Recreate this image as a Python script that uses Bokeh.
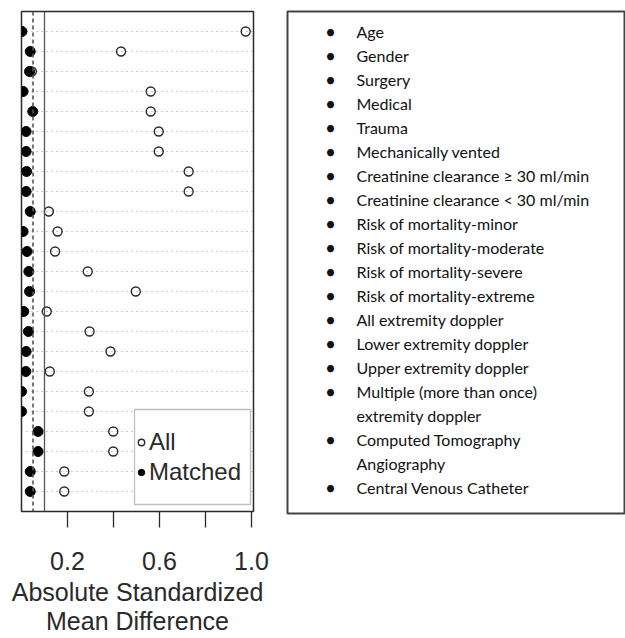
from bokeh.plotting import figure
from bokeh.models import (Range1d, FixedTicker, Span, Legend, LegendItem,
                          BoxAnnotation, PrintfTickFormatter)
from bokeh.layouts import row
from bokeh.embed import file_html
from bokeh.resources import INLINE
from bokeh.core.properties import value

# ---- data (top row first) ----
all_smd = [0.975, 0.433, 0.045, 0.562, 0.562, 0.597, 0.597, 0.727, 0.727,
           0.119, 0.157, 0.146, 0.288, 0.497, 0.110, 0.296, 0.387, 0.123,
           0.293, 0.293, 0.399, 0.399, 0.186, 0.186]
matched_smd = [0.002, 0.038, 0.035, 0.007, 0.049, 0.020, 0.020, 0.022, 0.020,
               0.038, 0.007, 0.024, 0.032, 0.035, 0.010, 0.030, 0.020, 0.019,
               0.000, 0.000, 0.072, 0.072, 0.038, 0.038]
series_names = ["All", "Matched"]
x_tick_labels = [0.2, 0.6, 1.0]
x_minor_ticks = [0.4, 0.8]
ref_solid = 0.1
ref_dashed = 0.05
covariates = [
    "Age", "Gender", "Surgery", "Medical", "Trauma", "Mechanically vented",
    "Creatinine clearance \u2265 30 ml/min", "Creatinine clearance < 30 ml/min",
    "Risk of mortality-minor", "Risk of mortality-moderate",
    "Risk of mortality-severe", "Risk of mortality-extreme",
    "All extremity doppler", "Lower extremity doppler", "Upper extremity doppler",
    "Multiple (more than once)\nextremity doppler",
    "Computed Tomography\nAngiography", "Central Venous Catheter",
]

n = len(all_smd)
rows_y = [n - i for i in range(n)]
FONT = "Liberation Sans"
INK = "#2a2a2a"

# ---- dot chart ----
p = figure(frame_width=232, frame_height=500, min_border_left=21, min_border_right=33,
           min_border_top=11, min_border_bottom=127,
           x_range=Range1d(0.0, 1.009), y_range=Range1d(0, n + 1),
           output_backend="svg", toolbar_location=None)
p.xaxis.ticker = FixedTicker(ticks=x_tick_labels, minor_ticks=x_minor_ticks)
p.xaxis.formatter = PrintfTickFormatter(format="%.1f")
p.xaxis.axis_line_color = None
p.xaxis.major_tick_in = 0
p.xaxis.major_tick_out = 16
p.xaxis.minor_tick_in = 0
p.xaxis.minor_tick_out = 16
p.xaxis.major_tick_line_color = INK
p.xaxis.minor_tick_line_color = INK
p.xaxis.major_tick_line_width = 1.3
p.xaxis.minor_tick_line_width = 1.3
p.xaxis.major_label_text_font = FONT
p.xaxis.major_label_text_font_size = "25px"
p.xaxis.major_label_text_color = INK
p.xaxis.major_label_standoff = 24
p.xaxis.axis_label = "Absolute Standardized\nMean Difference"
p.xaxis.axis_label_text_font = FONT
p.xaxis.axis_label_text_font_size = "25px"
p.xaxis.axis_label_text_font_style = "normal"
p.xaxis.axis_label_text_color = INK
p.xaxis.axis_label_text_line_height = 1.05
p.xaxis.axis_label_standoff = 5
p.yaxis.visible = False
p.xgrid.visible = False
p.ygrid.ticker = FixedTicker(ticks=rows_y)
p.ygrid.grid_line_dash = "1 4"
p.ygrid.grid_line_color = "#9a9a9a"
p.ygrid.grid_line_width = 1.2
p.outline_line_color = INK
p.outline_line_width = 1.5

p.add_layout(Span(location=ref_solid, dimension="height", line_color="#555555", line_width=1.3))
p.add_layout(Span(location=ref_dashed, dimension="height", line_color="#555555",
                  line_width=1.6, line_dash="4 3"))

r_all = p.scatter(x=all_smd, y=rows_y, size=9, marker="circle", fill_color="white",
                  fill_alpha=0, line_color=INK, line_width=1.4)
r_m = p.scatter(x=matched_smd, y=rows_y, size=10, marker="circle", fill_color="black",
                line_color="black")

# legend frame (screen units, relative to the plot frame)
p.add_layout(BoxAnnotation(left=113, right=229, bottom=7, top=102,
                           left_units="screen", right_units="screen",
                           bottom_units="screen", top_units="screen",
                           fill_color="white", fill_alpha=1.0,
                           line_color=INK, line_width=1.3))
legend = Legend(items=[LegendItem(label=series_names[0], renderers=[r_all]),
                       LegendItem(label=series_names[1], renderers=[r_m])],
                location=(112, 24), padding=0, margin=0, spacing=0,
                glyph_width=16, glyph_height=30, label_height=30,
                label_standoff=0, label_text_font=FONT, label_text_font_size="24px",
                label_text_color=INK, border_line_alpha=0,
                background_fill_alpha=0)
p.add_layout(legend)

# ---- covariate list box ----
FW, FH = 337, 502
q = figure(frame_width=FW, frame_height=FH, min_border_left=1, min_border_right=1,
           min_border_top=11, min_border_bottom=125,
           x_range=Range1d(0, FW), y_range=Range1d(FH, 0),
           output_backend="svg", toolbar_location=None)
q.axis.visible = False
q.grid.visible = False
q.outline_line_color = "#444444"
q.outline_line_width = 2

lines, bullet_flags = [], []
for c in covariates:
    for j, part in enumerate(c.split("\n")):
        lines.append(part)
        bullet_flags.append(j == 0)
line_y = [19.5 + 24 * i for i in range(len(lines))]
bul_y = [y for y, b in zip(line_y, bullet_flags) if b]

q.text(x=[69] * len(lines), y=line_y, text=lines, text_font=value("Lato"),
       text_font_size="16px", text_baseline="middle", text_color="#111111")
q.text(x=[43] * len(bul_y), y=bul_y, text=["\u2022"] * len(bul_y), text_font=value("Lato"),
       text_font_size="19px", text_baseline="middle", text_align="center",
       text_color="#111111")

layout = row(p, q)
open("out.html", "w").write(file_html(layout, INLINE))
